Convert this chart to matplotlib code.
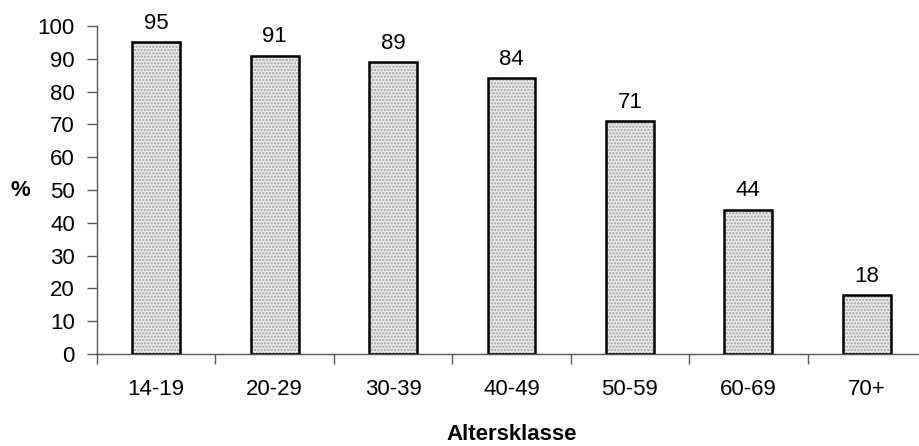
import matplotlib
matplotlib.use("Agg")
import matplotlib.pyplot as plt

categories = ["14-19", "20-29", "30-39", "40-49", "50-59", "60-69", "70+"]
values = [95, 91, 89, 84, 71, 44, 18]
yticks = [0, 10, 20, 30, 40, 50, 60, 70, 80, 90, 100]

plt.rcParams['font.family'] = ['Liberation Sans', 'DejaVu Sans']
plt.rcParams['hatch.linewidth'] = 1.2

FS = 16
W, H = 919, 446
fig = plt.figure(figsize=(W / 100, H / 100), dpi=100)
left, right, top, bottom = 97, 926, 26, 354
ax = fig.add_axes([left / W, 1 - bottom / H, (right - left) / W, (bottom - top) / H])

x = list(range(len(categories)))
ax.bar(x, values, width=0.405, color="#eeeeee", edgecolor="#a0a0a0", hatch=".....", linewidth=0, zorder=2)
ax.bar(x, values, width=0.405, fill=False, edgecolor="black", linewidth=1.8, zorder=3)
for xi, v in zip(x, values):
    ax.annotate(str(v), (xi, v), xytext=(0, 6), textcoords="offset points",
                ha="center", va="bottom", fontsize=FS)

ax.set_xlim(-0.5, len(categories) - 0.5)
ax.set_ylim(0, 100)
ax.set_yticks(yticks)
ax.set_yticklabels([str(t) for t in yticks], fontsize=FS)
ax.set_xticks(x)
ax.set_xticklabels(categories, fontsize=FS)
ax.tick_params(axis="x", length=0, pad=18)
ax.set_xticks([i - 0.5 for i in range(len(categories) + 1)], minor=True)
ax.tick_params(axis="x", which="minor", length=7, width=1, color="#555555")
ax.tick_params(axis="y", length=7, width=1, color="#555555", pad=9)

for s in ["top", "right"]:
    ax.spines[s].set_visible(False)
for s in ["left", "bottom"]:
    ax.spines[s].set_color("#555555")
    ax.spines[s].set_linewidth(1)

fig.text(20 / W, 1 - 190 / H, "%", fontsize=FS, fontweight="bold", ha="center", va="center")
fig.text(512 / W, 1 - 435 / H, "Altersklasse", fontsize=FS, fontweight="bold", ha="center", va="center")

fig.savefig("out.png", dpi=100)
